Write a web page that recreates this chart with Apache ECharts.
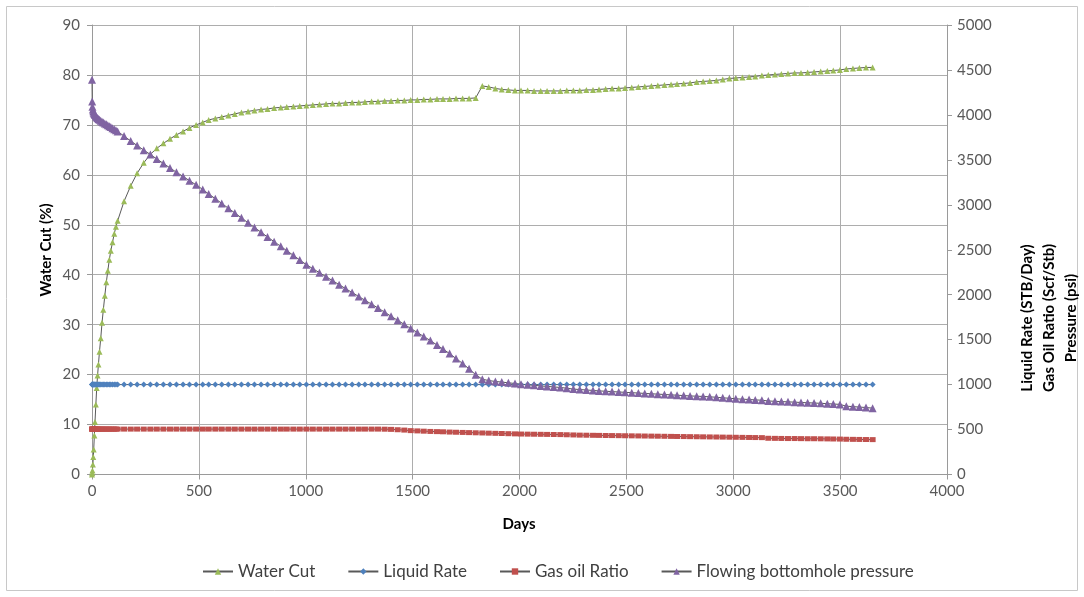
<!DOCTYPE html>
<html>
<head>
<meta charset="utf-8">
<script src="https://cdn.jsdelivr.net/npm/echarts@6/dist/echarts.min.js"></script>
<style>
html,body{margin:0;padding:0;background:#fff;}
#chart{width:1084px;height:597px;}
</style>
</head>
<body>
<div id="chart"></div>
<script>
// Days (x values)
const days = [
  0,1,2,4,6,8,11,14,18,22,26,30,35,41,47,53,60,67,74,81,88,96,104,112,120,
  150,181,211,242,273,303,334,365,395,426,
  456,487,518,546,577,607,638,668,699,730,
  760,791,821,852,883,911,942,972,1003,1033,
  1064,1095,1125,1156,1186,1217,1248,1277,1308,1338,
  1369,1399,1430,1461,1491,1522,1552,1583,1614,1642,
  1673,1703,1734,1764,1795,1826,1856,1887,1917,1948,
  1979,2007,2038,2068,2099,2129,2160,2191,2221,2252,
  2282,2313,2344,2372,2403,2433,2464,2494,2525,2556,
  2586,2617,2647,2678,2709,2737,2768,2798,2829,2859,
  2890,2921,2951,2982,3012,3043,3074,3103,3134,3164,
  3195,3225,3256,3287,3317,3348,3378,3409,3440,3468,
  3499,3529,3560,3590,3621,3652
];
// Water Cut (%)
const waterCut = [
  0,0.3,0.8,2,3.5,5,7.8,10.5,14,17.3,19.8,22,24.6,27.3,30.4,33,35.8,38.5,40.8,43,44.8,46.5,48.2,49.6,50.8,
  54.7,57.8,60.3,62.4,64.1,65.3,66.3,67.2,68,68.7,
  69.4,70,70.5,71,71.3,71.6,71.9,72.2,72.5,72.7,
  72.9,73.1,73.2,73.4,73.5,73.6,73.7,73.8,73.9,74.0,
  74.1,74.2,74.3,74.3,74.4,74.5,74.5,74.6,74.7,74.7,
  74.8,74.8,74.9,74.9,75.0,75.0,75.1,75.1,75.2,75.2,
  75.2,75.3,75.3,75.3,75.4,77.8,77.6,77.3,77.1,77.0,
  76.9,76.9,76.9,76.8,76.8,76.8,76.8,76.8,76.9,76.9,
  76.9,77.0,77.0,77.1,77.2,77.3,77.3,77.4,77.5,77.6,
  77.7,77.8,77.9,78.0,78.1,78.2,78.3,78.4,78.6,78.7,
  78.8,78.9,79.1,79.3,79.4,79.5,79.6,79.7,79.9,80.0,
  80.1,80.2,80.3,80.4,80.4,80.5,80.6,80.7,80.8,80.9,
  81.0,81.2,81.3,81.4,81.5,81.5
];
// Liquid Rate (STB/Day)
const liquidRate = [
  1000,1000,1000,1000,1000,1000,1000,1000,1000,1000,1000,1000,1000,1000,1000,1000,1000,1000,1000,1000,1000,1000,1000,1000,1000,
  1000,1000,1000,1000,1000,1000,1000,1000,1000,1000,
  1000,1000,1000,1000,1000,1000,1000,1000,1000,1000,
  1000,1000,1000,1000,1000,1000,1000,1000,1000,1000,
  1000,1000,1000,1000,1000,1000,1000,1000,1000,1000,
  1000,1000,1000,1000,1000,1000,1000,1000,1000,1000,
  1000,1000,1000,1000,1000,1000,1000,1000,1000,1000,
  1000,1000,1000,1000,1000,1000,1000,1000,1000,1000,
  1000,1000,1000,1000,1000,1000,1000,1000,1000,1000,
  1000,1000,1000,1000,1000,1000,1000,1000,1000,1000,
  1000,1000,1000,1000,1000,1000,1000,1000,1000,1000,
  1000,1000,1000,1000,1000,1000,1000,1000,1000,1000,
  1000,1000,1000,1000,1000,1000
];
// Gas oil Ratio (Scf/Stb)
const gasOilRatio = [
  505,505,505,505,505,505,505,505,505,505,505,505,505,505,505,505,505,505,505,505,505,505,505,505,505,
  505,505,505,505,505,505,505,505,505,505,
  505,505,505,505,505,505,505,505,505,505,
  505,505,505,505,505,505,505,505,505,505,
  505,505,505,505,505,505,505,505,505,505,
  504,502,498,494,488,485,482,479,477,475,
  472,470,468,466,464,462,460,458,456,454,
  452,450,449,448,447,446,445,444,442,440,
  438,437,436,435,434,433,432,431,430,429,
  428,427,426,425,424,423,422,421,420,419,
  418,417,416,415,414,413,412,411,410,403,
  402,401,400,400,399,398,398,397,396,395,
  394,392,391,390,389,388
];
// Flowing bottomhole pressure (psi)
const bhp = [
  4390,4150,4090,4060,4040,4025,4010,3998,3985,3975,3965,3955,3945,3935,3925,3915,3905,3895,3885,3875,3865,3852,3840,3828,3815,
  3765,3710,3660,3608,3560,3510,3460,3410,3362,3316,
  3268,3222,3170,3120,3068,3015,2962,2910,2855,2800,
  2748,2695,2642,2590,2538,2490,2438,2386,2334,2290,
  2245,2200,2157,2112,2068,2024,1980,1938,1895,1852,
  1806,1760,1715,1670,1625,1580,1535,1490,1440,1395,
  1345,1290,1235,1175,1110,1060,1045,1035,1028,1020,
  1012,1005,998,992,985,980,974,968,960,950,
  945,940,935,930,926,922,918,914,910,906,
  902,898,894,890,886,882,878,874,871,868,
  864,859,853,848,842,838,834,830,826,818,
  814,811,808,805,801,798,795,792,788,784,
  780,760,755,750,745,738
];

const pair = arr => days.map((d, i) => [d, arr[i]]);
const FONT = 'Lato, "Liberation Sans", sans-serif';
const lineGrey = '#595959';
const plain = v => String(v);

const chart = echarts.init(document.getElementById('chart'), null, {renderer: 'canvas'});
chart.setOption({
  animation: false,
  backgroundColor: '#ffffff',
  textStyle: {fontFamily: FONT},
  graphic: [
    {type: 'rect', shape: {x: 6.5, y: 6.5, width: 1071, height: 584},
     style: {fill: 'none', stroke: '#c8c8c8', lineWidth: 1}, silent: true, z: -10},
    {type: 'text', x: 46, y: 250, rotation: Math.PI / 2,
     style: {text: 'Water Cut (%)', font: 'bold 15px ' + FONT, fill: '#000', align: 'center', verticalAlign: 'middle'}},
    {type: 'text', x: 519, y: 524,
     style: {text: 'Days', font: 'bold 15px ' + FONT, fill: '#000', align: 'center', verticalAlign: 'middle'}},
    {type: 'text', x: 1049, y: 318, rotation: Math.PI / 2,
     style: {text: 'Liquid Rate (STB/Day)\nGas Oil Ratio (Scf/Stb)\nPressure (psi)', font: 'bold 15px ' + FONT,
             fill: '#000', align: 'center', verticalAlign: 'middle', lineHeight: 22}}
  ],
  grid: {left: 92, right: 137, top: 25, bottom: 122.5, containLabel: false},
  legend: {
    bottom: 12, left: 197, itemGap: 32, itemWidth: 30, itemHeight: 8,
    textStyle: {fontFamily: FONT, fontSize: 17, color: '#404040'},
    data: ['Water Cut', 'Liquid Rate', 'Gas oil Ratio', 'Flowing bottomhole pressure']
  },
  xAxis: {
    type: 'value', min: 0, max: 4000, interval: 500,
    axisLine: {show: true, lineStyle: {color: '#9a9a9a'}},
    axisTick: {show: true, length: 5, lineStyle: {color: '#9a9a9a'}},
    axisLabel: {color: '#595959', fontSize: 15, fontFamily: FONT, margin: 9, formatter: plain},
    splitLine: {show: true, lineStyle: {color: '#adadad'}}
  },
  yAxis: [
    {type: 'value', min: 0, max: 90, interval: 10, position: 'left',
     axisLine: {show: true, lineStyle: {color: '#9a9a9a'}},
     axisTick: {show: true, length: 5, lineStyle: {color: '#9a9a9a'}},
     axisLabel: {color: '#595959', fontSize: 15, fontFamily: FONT, margin: 12, formatter: plain},
     splitLine: {show: true, lineStyle: {color: '#adadad'}}},
    {type: 'value', min: 0, max: 5000, interval: 500, position: 'right',
     axisLine: {show: true, lineStyle: {color: '#9a9a9a'}},
     axisTick: {show: true, length: 5, lineStyle: {color: '#9a9a9a'}},
     axisLabel: {color: '#595959', fontSize: 15, fontFamily: FONT, margin: 10, formatter: plain},
     splitLine: {show: false}}
  ],
  series: [
    {name: 'Water Cut', type: 'line', yAxisIndex: 0, data: pair(waterCut),
     symbol: 'triangle', symbolSize: 6, showAllSymbol: true,
     lineStyle: {color: lineGrey, width: 1}, itemStyle: {color: '#9bbb59'}},
    {name: 'Liquid Rate', type: 'line', yAxisIndex: 1, data: pair(liquidRate),
     symbol: 'diamond', symbolSize: 6, showAllSymbol: true,
     lineStyle: {color: lineGrey, width: 1}, itemStyle: {color: '#4f81bd'}},
    {name: 'Gas oil Ratio', type: 'line', yAxisIndex: 1, data: pair(gasOilRatio),
     symbol: 'rect', symbolSize: [6, 5], showAllSymbol: true,
     lineStyle: {color: lineGrey, width: 1}, itemStyle: {color: '#c0504d'}},
    {name: 'Flowing bottomhole pressure', type: 'line', yAxisIndex: 1, data: pair(bhp),
     symbol: 'triangle', symbolSize: 8, showAllSymbol: true,
     lineStyle: {color: lineGrey, width: 1}, itemStyle: {color: '#8064a2'}}
  ]
});
</script>
</body>
</html>
